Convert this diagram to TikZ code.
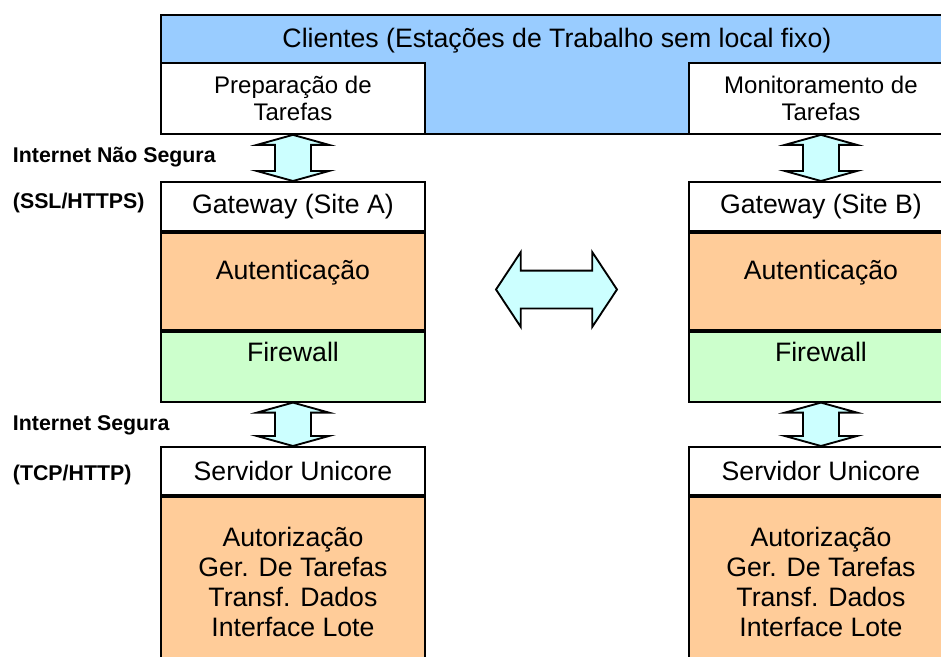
\documentclass[tikz,border=0pt]{standalone}
\usepackage{fontspec}
\setmainfont{Liberation Sans}
\usetikzlibrary{shapes.arrows, positioning, calc}
\definecolor{clientblue}{RGB}{153, 204, 255}
\definecolor{authorange}{RGB}{255, 204, 153}
\definecolor{wallgreen}{RGB}{204, 255, 204}
\definecolor{linkcyan}{RGB}{204, 255, 255}
\newcommand{\pxu}{0.75pt}
% block arrow between two stacked boxes
\newcommand{\vlink}[2]{%
  \draw[linkarrow] (#1.south) -- ++(36,10) -- ++(-18,0)
    -- ($(#2.north)+(18,-10)$) -- ++(18,0) -- (#2.north)
    -- ++(-36,-10) -- ++(18,0) -- ($(#1.south)+(-18,10)$)
    -- ++(-18,0) -- cycle;}

\begin{document}
\begin{tikzpicture}[x=0.75pt, y=-0.75pt, line width=1.4pt,
    box/.style={draw, rectangle, inner sep=0pt, minimum width=264*\pxu,
      anchor=north west, align=center, font=\fontsize{20}{22.5}\selectfont},
    smallbox/.style={box, font=\fontsize{18}{20.5}\selectfont},
    boxtext/.style={font=\fontsize{20}{22.5}\selectfont},
    sidetext/.style={anchor=west, inner sep=0pt, font=\fontsize{16}{18}\selectfont\bfseries},
    linkarrow/.style={draw, fill=linkcyan, line join=miter}]
    \useasboundingbox (0,0) rectangle (941,656);
    \clip (0,0) rectangle (941,656);

    % Clients band
    \node[box, fill=clientblue, minimum width=792*\pxu, minimum height=119*\pxu,
      label={[boxtext, yshift=25.1pt]center:Clientes (Estações de Trabalho sem local fixo)}]
      (clients) at (160,14) {};
    \node[smallbox, fill=white, minimum height=71*\pxu] (prepA) at (160,62) {Preparação de\\Tarefas};
    \node[smallbox, fill=white, minimum height=71*\pxu] (monB) at (688,62) {Monitoramento de\\Tarefas};

    % Site A
    \node[box, fill=white, minimum height=49*\pxu] (gwA) at (160,181) {Gateway (Site A)};
    \node[box, fill=authorange, minimum height=97*\pxu, below=0pt of gwA,
      label={[boxtext, yshift=6.4pt]center:Autenticação}] (authA) {};
    \node[box, fill=wallgreen, minimum height=70*\pxu, below=0pt of authA,
      label={[boxtext, yshift=11pt]center:Firewall}] (fwA) {};
    \node[box, fill=white, minimum height=48*\pxu] (srvA) at (160,446) {Servidor Unicore};
    \node[box, fill=authorange, minimum height=170*\pxu, below=0pt of srvA] (funcA)
      {Autorização\\Ger. De Tarefas\\Transf. Dados\\Interface Lote};

    % Site B
    \node[box, fill=white, minimum height=49*\pxu] (gwB) at (688,181) {Gateway (Site B)};
    \node[box, fill=authorange, minimum height=97*\pxu, below=0pt of gwB,
      label={[boxtext, yshift=6.4pt]center:Autenticação}] (authB) {};
    \node[box, fill=wallgreen, minimum height=70*\pxu, below=0pt of authB,
      label={[boxtext, yshift=11pt]center:Firewall}] (fwB) {};
    \node[box, fill=white, minimum height=48*\pxu] (srvB) at (688,446) {Servidor Unicore};
    \node[box, fill=authorange, minimum height=170*\pxu, below=0pt of srvB] (funcB)
      {Autorização\\Ger. De Tarefas\\Transf. Dados\\Interface Lote};

    % Side labels
    \node[sidetext] (unsafe) at (12,157) {Internet Não Segura};
    \node[sidetext] (ssl) at (12,203) {(SSL/HTTPS)};
    \node[sidetext] (safe) at (12,425) {Internet Segura};
    \node[sidetext] (tcp) at (12,475) {(TCP/HTTP)};

    % Links
    \vlink{prepA}{gwA}
    \vlink{monB}{gwB}
    \vlink{fwA}{srvA}
    \vlink{fwB}{srvB}
    \node[double arrow, draw, fill=linkcyan, inner xsep=0pt, inner ysep=13.5pt, line join=miter,
      minimum height=121*\pxu, double arrow head extend=13.9pt,
      double arrow tip angle=113] (siteLink) at (556.5,289.5) {};
\end{tikzpicture}
\end{document}
